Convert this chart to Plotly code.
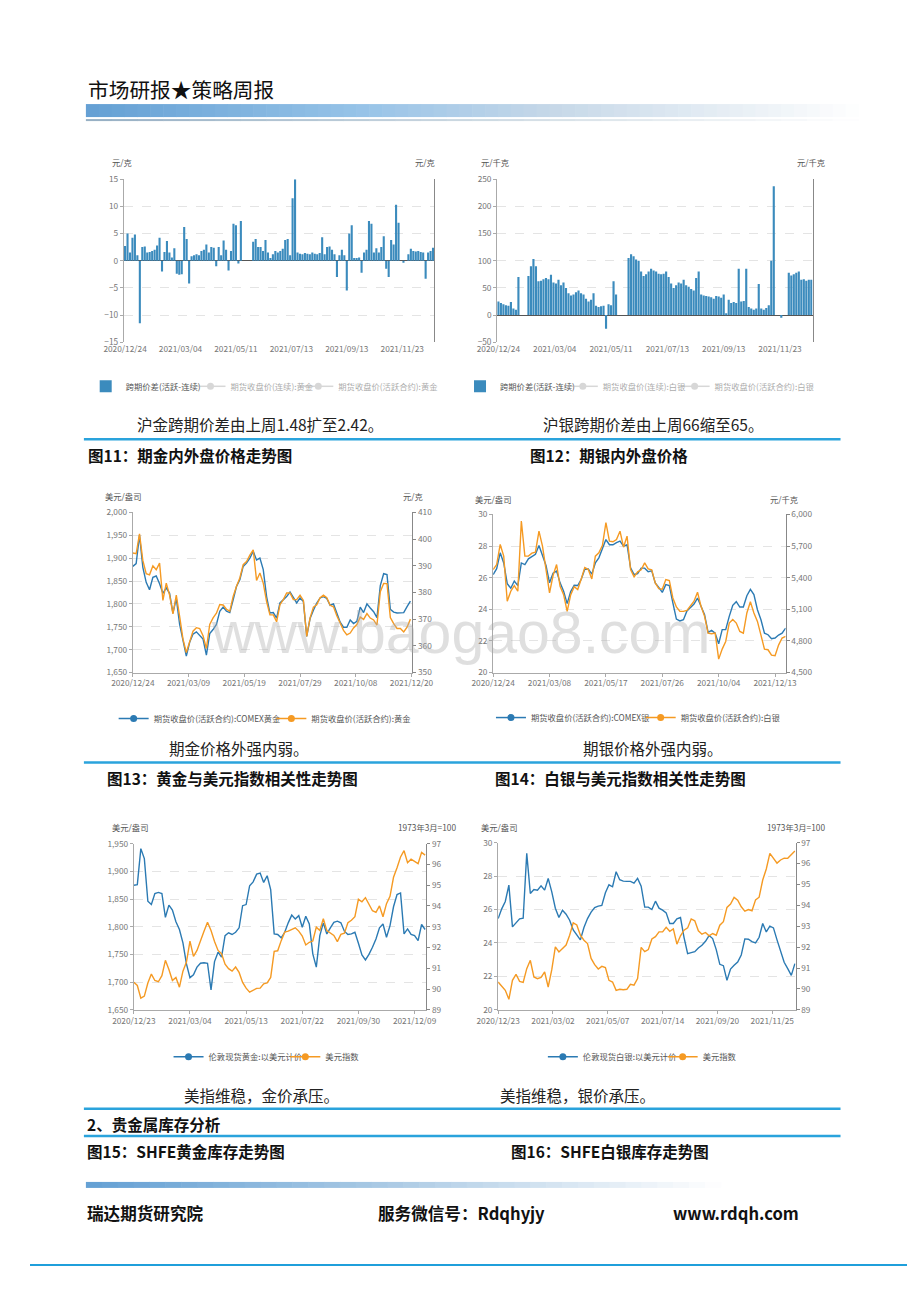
import numpy as np
import plotly.graph_objects as go

W, H = 920, 1302
# the photographed page is slightly shrunk/offset; map reference pixels to figure coordinates
SX, OX, SY, OY = 0.955, 28.0, 0.99, 14.0
def X(px): return ((px - OX) / SX) / W
def Y(py): return 1 - ((py - OY) / SY) / H
FS = 1.035
def fs(s): return round(s * FS, 1)

FONT = "Noto Sans CJK SC"
BLUE = "#2b7ab3"
ORANGE = "#f59a23"
BAR = "#3b8bbd"
GRAYLEG = "#b0b0b0"

# ---------------- data ----------------
spread_dates = ["2020/12/24", "2021/03/04", "2021/05/11", "2021/07/13", "2021/09/13", "2021/11/23"]
spread_ticks = [0, 45, 90, 135, 180, 225]
gold_spread = [2.7, 5.0, 1.5, 4.2, 4.8, 1.0, -11.5, 2.5, 2.6, 1.5,
               1.6, 1.8, 2.0, 2.8, 4.2, -2.0, 1.6, 3.6, 1.5, 0.6,
               2.3, -2.4, -2.6, -2.5, 6.2, 4.0, -4.2, 0.8, 1.0, 1.2,
               1.0, 1.8, 2.0, 3.0, 1.5, 2.5, 2.4, -1.0, 2.5, 1.0,
               3.7, 2.0, -1.8, 1.8, 6.8, 6.5, -0.5, 7.3, 0, 0,
               0, 0, 3.5, 4.0, 2.5, 2.5, 1.8, 3.8, 1.5, 0.5,
               1.2, 1.8, 1.5, 1.8, 2.2, 3.8, 4.0, 1.0, 11.5, 15.0,
               1.5, 1.3, 1.2, 1.4, 1.3, 1.2, 1.5, 1.3, 1.2, 1.4,
               4.3, 1.2, 2.5, 2.6, 2.0, 1.2, -3.0, 1.0, 2.0, 1.0,
               -5.5, 5.0, 6.5, 0.5, 0.5, 0.6, -2.2, 1.5, 2.0, 7.3,
               6.8, 1.5, 2.3, 1.5, 2.5, 4.5, -1.5, -3.0, 3.8, 3.0,
               10.3, 7.0, 0, -0.4, 0, 1.2, 2.2, 1.8, 1.7, 1.8,
               1.6, 1.5, -3.3, 1.5, 1.8, 2.4]
silver_spread = [25, 22, 20, 18, 17, 24, 12, 10, 70, 0,
                 0, 0, 72, 90, 103, 90, 62, 63, 66, 68,
                 66, 74, 60, 58, 65, 55, 60, 50, 40, 36,
                 38, 42, 45, 40, 38, 30, 25, 28, 40, 17,
                 15, 16, 17, -25, 20, 18, 62, 38, 0, 0,
                 0, 0, 105, 112, 108, 102, 100, 80, 72, 75,
                 80, 85, 82, 80, 76, 75, 76, 80, 70, 58,
                 50, 55, 60, 58, 65, 55, 52, 48, 45, 68,
                 80, 38, 36, 35, 34, 33, 30, 35, 34, 32,
                 38, 2, 28, 22, 24, 22, 85, 25, 26, 85,
                 15, 12, 10, 12, 57, 12, 10, 13, 18, 100,
                 237, 0, 0, -5, 0, 0, 78, 73, 75, 78,
                 80, 65, 66, 63, 65, 65]

f11_dates = ["2020/12/24", "2021/03/09", "2021/05/19", "2021/07/29", "2021/10/08", "2021/12/20"]
f11_ticks = [0, 50, 100, 150, 200, 250]
comex_gold = [1882, 1888, 1950, 1880, 1847, 1831, 1858, 1861, 1844, 1823,
              1835, 1823, 1780, 1812, 1755, 1717, 1686, 1716, 1734, 1739,
              1732, 1723, 1688, 1735, 1744, 1755, 1784, 1793, 1784, 1781,
              1809, 1838, 1853, 1882, 1889, 1900, 1915, 1896, 1900, 1875,
              1816, 1780, 1781, 1769, 1802, 1809, 1816, 1826, 1813, 1802,
              1813, 1805, 1729, 1768, 1786, 1802, 1813, 1816, 1812, 1797,
              1800, 1778, 1760, 1749, 1749, 1765, 1757, 1762, 1793, 1781,
              1800, 1791, 1783, 1770, 1840, 1866, 1864, 1788, 1782, 1780,
              1781, 1781, 1794, 1806]
shfe_gold = [394.8, 394.5, 402, 392, 387, 386.6, 390, 388.5, 391, 377,
             383.5, 379, 372, 379, 371, 362.5, 357.5, 362, 365.5, 366.8,
             366.5, 363.8, 359, 368, 370.5, 372.2, 375.5, 375.3, 373.7, 373,
             378.5, 382.3, 385.4, 390.4, 391.6, 394, 396, 384.5, 387.3, 383.5,
             376.6, 371.6, 371.6, 369, 375.4, 377.3, 379.8, 379.8, 377.3, 377.3,
             379, 377, 363.5, 370.5, 374.5, 375.4, 378, 379, 378, 375.2,
             374.6, 371.3, 368.3, 365.8, 364.1, 364.8, 366.7, 368, 370.8, 369.9,
             372.1, 370.4, 369.7, 367.8, 380.3, 383.4, 383.3, 370.6, 368.3, 366.5,
             366.5, 365.2, 367, 370]

f12_dates = ["2020/12/24", "2021/03/08", "2021/05/17", "2021/07/26", "2021/10/04", "2021/12/13"]
f12_ticks = [0, 48, 96, 144, 192, 240]
comex_silver = [26.19, 26.57, 27.57, 26.93, 25.62, 25.33, 25.79, 25.50, 26.93, 26.83,
                27.19, 27.36, 27.48, 28.03, 27.46, 26.77, 25.67, 26.28, 26.41, 25.67,
                25.14, 24.36, 25.12, 25.52, 25.50, 25.90, 26.53, 26.55, 26.22, 26.93,
                27.25, 27.78, 28.41, 28.08, 28.08, 28.22, 28.31, 27.99, 28.08, 26.62,
                26.19, 26.26, 26.60, 26.60, 26.38, 26.43, 25.67, 25.39, 25.07, 25.56,
                25.50, 24.40, 23.38, 23.26, 23.34, 23.89, 24.12, 24.33, 24.71, 24.19,
                23.66, 22.54, 22.66, 22.49, 21.82, 22.71, 22.71, 23.55, 24.25, 24.48,
                24.14, 24.14, 24.86, 25.26, 24.93, 23.97, 23.34, 22.49, 22.39, 22.14,
                22.18, 22.37, 22.49, 22.81]
shfe_silver = [5477, 5524, 5715, 5604, 5176, 5271, 5325, 5271, 5937, 5604,
               5604, 5632, 5642, 5841, 5699, 5493, 5255, 5420, 5524, 5318,
               5239, 5080, 5236, 5315, 5287, 5388, 5496, 5477, 5388, 5604,
               5635, 5705, 5921, 5746, 5740, 5762, 5841, 5689, 5794, 5477,
               5407, 5455, 5474, 5540, 5483, 5474, 5350, 5296, 5290, 5382,
               5372, 5207, 5122, 5080, 5080, 5090, 5137, 5176, 5261, 5128,
               5033, 4874, 4868, 4874, 4627, 4722, 4795, 4969, 5004, 4969,
               4890, 4874, 5065, 5172, 5065, 4985, 4855, 4722, 4716, 4665,
               4659, 4760, 4827, 4843]

f13_dates = ["2020/12/23", "2021/03/04", "2021/05/13", "2021/07/22", "2021/09/30", "2021/12/09"]
f13_ticks = [0, 48, 96, 144, 192, 240]
ldn_gold = [1875, 1876, 1941, 1923, 1846, 1840, 1860, 1862, 1860, 1817,
            1839, 1830, 1809, 1795, 1771, 1733, 1708, 1713, 1727, 1734,
            1735, 1734, 1686, 1737, 1754, 1745, 1784, 1789, 1786, 1790,
            1798, 1838, 1840, 1874, 1881, 1895, 1897, 1880, 1892, 1867,
            1787, 1786, 1780, 1790, 1807, 1821, 1814, 1820, 1799, 1819,
            1805, 1751, 1727, 1784, 1807, 1787, 1798, 1808, 1810, 1807,
            1792, 1786, 1787, 1790, 1770, 1749, 1740, 1750, 1763, 1778,
            1798, 1805, 1781, 1802, 1836, 1858, 1861, 1787, 1796, 1786,
            1784, 1775, 1804, 1795]
usd_index_a = [90.33, 90.17, 89.56, 89.66, 90.29, 90.72, 90.41, 90.35, 90.64, 91.38,
               90.94, 90.41, 90.56, 90.09, 90.86, 91.30, 92.31, 91.57, 91.86, 92.28,
               92.78, 93.22, 92.82, 92.29, 91.86, 91.70, 91.20, 90.98, 90.86, 91.06,
               90.80, 90.32, 90.04, 89.85, 89.93, 90.03, 90.04, 90.25, 90.29, 90.56,
               91.81, 91.84, 92.33, 92.74, 92.79, 92.89, 92.95, 92.79, 92.55, 92.12,
               92.25, 92.31, 92.98, 92.82, 93.39, 92.81, 92.71, 92.58, 92.28, 92.63,
               92.69, 93.19, 93.31, 93.48, 94.32, 94.20, 94.40, 94.09, 93.77, 93.69,
               94.00, 93.48, 94.11, 94.46, 95.38, 95.84, 96.36, 96.66, 96.08, 96.25,
               96.13, 96.04, 96.58, 96.45]

f14_dates = ["2020/12/23", "2021/03/02", "2021/05/07", "2021/07/14", "2021/09/20", "2021/11/25"]
f14_ticks = [0, 46, 92, 138, 184, 230]
ldn_silver = [25.46, 26.04, 26.48, 27.46, 24.96, 25.22, 25.44, 25.48, 29.36, 26.96,
              27.20, 27.16, 27.42, 27.16, 27.86, 27.06, 26.08, 25.52, 25.96, 25.72,
              25.36, 24.78, 24.44, 24.18, 24.92, 25.46, 25.84, 26.12, 26.20, 26.24,
              27.00, 27.48, 27.36, 28.26, 27.78, 27.70, 27.68, 27.68, 27.58, 27.86,
              27.40, 26.14, 26.14, 26.00, 26.50, 26.08, 25.96, 25.80, 25.16, 25.16,
              25.44, 25.52, 24.32, 23.36, 23.42, 23.48, 23.70, 23.86, 24.10, 24.44,
              24.26, 23.60, 22.72, 22.64, 21.76, 22.44, 22.66, 22.86, 23.28, 24.24,
              24.22, 24.08, 24.00, 24.34, 25.16, 24.66, 25.00, 24.90, 24.18, 23.44,
              22.84, 22.46, 22.06, 22.76]
usd_index_b = [90.33, 90.12, 89.93, 89.50, 90.41, 90.70, 90.36, 90.31, 90.97, 91.37,
               90.57, 90.49, 90.55, 90.81, 90.09, 90.92, 92.01, 91.77, 91.93, 92.10,
               92.57, 93.16, 93.06, 92.57, 92.33, 92.17, 91.46, 91.16, 90.95, 91.08,
               91.02, 90.41, 90.33, 89.93, 89.98, 89.96, 89.98, 90.22, 90.18, 90.49,
               91.99, 91.78, 91.88, 92.39, 92.50, 92.73, 92.73, 92.95, 92.76, 92.87,
               92.14, 92.54, 92.81, 92.92, 93.35, 93.26, 92.78, 92.62, 92.70, 92.54,
               92.65, 92.57, 93.05, 93.22, 93.90, 94.06, 94.38, 94.25, 93.93, 93.72,
               93.80, 93.74, 94.26, 94.39, 95.21, 95.74, 96.49, 96.28, 96.02, 96.17,
               96.26, 96.25, 96.41, 96.60]

# ---------------- figure ----------------
fig = go.Figure()
tf = dict(size=fs(8), color="#777777", family=FONT)

def bar_days(v): return np.arange(len(v)) * 2
def line_days(v): return np.arange(len(v)) * 3

def add_line(x, y, xa, ya, color, name, leg):
    fig.add_trace(go.Scatter(x=x, y=y, xaxis=xa, yaxis=ya, mode="lines",
                             line=dict(color=color, width=1.4), showlegend=False))
    fig.add_trace(go.Scatter(x=[None], y=[None], xaxis=xa, yaxis=ya, mode="lines+markers",
                             line=dict(color=color, width=1.5), marker=dict(size=7, color=color),
                             name=name, legend=leg))

def add_ghost(name, xa, ya, leg):
    fig.add_trace(go.Scatter(x=[None], y=[None], xaxis=xa, yaxis=ya, mode="lines+markers",
                             line=dict(color=GRAYLEG, width=1.5), marker=dict(size=7, color=GRAYLEG),
                             name=name, legend=leg, visible="legendonly"))

fig.add_trace(go.Bar(x=bar_days(gold_spread), y=gold_spread, xaxis="x", yaxis="y",
                     marker=dict(color=BAR, line=dict(width=0)), width=1.7,
                     name="跨期价差(活跃-连续)", legend="legend"))
add_ghost("期货收盘价(连续):黄金", "x", "y2", "legend2")
add_ghost("期货收盘价(活跃合约):黄金", "x", "y2", "legend3")

fig.add_trace(go.Bar(x=bar_days(silver_spread), y=silver_spread, xaxis="x2", yaxis="y3",
                     marker=dict(color=BAR, line=dict(width=0)), width=1.7,
                     name="跨期价差(活跃-连续)", legend="legend4"))
add_ghost("期货收盘价(连续):白银", "x2", "y4", "legend5")
add_ghost("期货收盘价(活跃合约):白银", "x2", "y4", "legend6")

add_line(line_days(comex_gold), comex_gold, "x3", "y5", BLUE, "期货收盘价(活跃合约):COMEX黄金", "legend7")
add_line(line_days(shfe_gold), shfe_gold, "x3", "y6", ORANGE, "期货收盘价(活跃合约):黄金", "legend8")
add_line(line_days(comex_silver), comex_silver, "x4", "y7", BLUE, "期货收盘价(活跃合约):COMEX银", "legend9")
add_line(line_days(shfe_silver), shfe_silver, "x4", "y8", ORANGE, "期货收盘价(活跃合约):白银", "legend10")
add_line(line_days(ldn_gold), ldn_gold, "x5", "y9", BLUE, "伦敦现货黄金:以美元计价", "legend11")
add_line(line_days(usd_index_a), usd_index_a, "x5", "y10", ORANGE, "美元指数", "legend12")
add_line(line_days(ldn_silver), ldn_silver, "x6", "y11", BLUE, "伦敦现货白银:以美元计价", "legend13")
add_line(line_days(usd_index_b), usd_index_b, "x6", "y12", ORANGE, "美元指数", "legend14")

def date_axis(dom, anchor, rng, tv, tt, line=True):
    return dict(domain=dom, anchor=anchor, range=rng, tickmode="array", tickvals=tv, ticktext=tt,
                showgrid=False, zeroline=False, showline=line, linecolor="#aaaaaa",
                ticks="outside" if line else "", ticklen=3, tickcolor="#aaaaaa", tickfont=tf)

def val_axis(dom, anchor, rng, dtick, fmt="", zero=False):
    return dict(domain=dom, anchor=anchor, range=rng, dtick=dtick, tick0=rng[0], tickformat=fmt,
                showgrid=True, gridcolor="#e4e4e4", griddash="dash", gridwidth=1,
                zeroline=zero, zerolinecolor="#555555", zerolinewidth=1,
                showline=True, linecolor="#aaaaaa", ticks="outside", ticklen=3,
                tickcolor="#aaaaaa", tickfont=tf)

def right_axis(over, anchor, rng, dtick, fmt="", labels=True):
    return dict(overlaying=over, anchor=anchor, side="right", range=rng, dtick=dtick, tick0=rng[0],
                tickformat=fmt, showgrid=False, zeroline=False, showline=True, linecolor="#888888",
                ticks="outside" if labels else "", ticklen=3, tickcolor="#888888",
                showticklabels=labels, tickfont=tf)

top_dom = [Y(341), Y(178)]
layout_axes = dict(
    xaxis=date_axis([X(122), X(433)], "y", [-1, 251], spread_ticks, spread_dates, line=False),
    yaxis=val_axis(top_dom, "x", [-15, 15], 5, zero=True),
    yaxis2=right_axis("y", "x", [-15, 15], 5, labels=False),
    xaxis2=date_axis([X(496), X(812)], "y3", [-1, 251], spread_ticks, spread_dates, line=False),
    yaxis3=val_axis(top_dom, "x2", [-50, 250], 50, zero=True),
    yaxis4=right_axis("y3", "x2", [-50, 250], 50, labels=False),
    xaxis3=date_axis([X(131), X(411)], "y5", [0, 250.7], f11_ticks, f11_dates),
    yaxis5=val_axis([Y(671), Y(511)], "x3", [1650, 2000], 50, ","),
    yaxis6=right_axis("y5", "x3", [350, 410], 10),
    xaxis4=date_axis([X(492), X(785)], "y7", [0, 249], f12_ticks, f12_dates),
    yaxis7=val_axis([Y(671), Y(513)], "x4", [20, 30], 2),
    yaxis8=right_axis("y7", "x4", [4500, 6000], 300, ","),
    xaxis5=date_axis([X(132), X(425)], "y9", [0, 250], f13_ticks, f13_dates),
    yaxis9=val_axis([Y(1008), Y(842)], "x5", [1650, 1950], 50, ","),
    yaxis10=right_axis("y9", "x5", [89, 97], 1),
    xaxis6=date_axis([X(497), X(795)], "y11", [0, 249.6], f14_ticks, f14_dates),
    yaxis11=val_axis([Y(1008), Y(841)], "x6", [20, 30], 2),
    yaxis12=right_axis("y11", "x6", [89, 97], 1),
)

def leg(text_start, y):
    xf = ((text_start - OX) / SX - 40) / W
    return dict(x=xf, y=Y(y), xanchor="left", yanchor="middle", orientation="h",
                font=dict(size=fs(8), color="#555555", family=FONT), bgcolor="rgba(0,0,0,0)",
                itemwidth=30, tracegroupgap=0, itemclick=False, itemdoubleclick=False)

legends = {
    "legend": leg(122, 385), "legend2": leg(227, 385), "legend3": leg(335, 385),
    "legend4": leg(497, 385), "legend5": leg(600, 385), "legend6": leg(712, 385),
    "legend7": leg(150, 717), "legend8": leg(308, 717),
    "legend9": leg(528, 716), "legend10": leg(678, 716),
    "legend11": leg(205, 1055), "legend12": leg(322, 1055),
    "legend13": leg(580, 1055), "legend14": leg(700, 1055),
}

# ---------------- page decoration ----------------
shapes = []
def grad(x0, x1, y0, y1, stops, n=60):
    for i in range(n):
        t = (i + 0.5) / n
        for j in range(len(stops) - 1):
            if stops[j][0] <= t <= stops[j + 1][0]:
                a, b = stops[j], stops[j + 1]
                u = (t - a[0]) / (b[0] - a[0])
                c = [int(a[1][k] + (b[1][k] - a[1][k]) * u) for k in range(3)]
                break
        xa = x0 + (x1 - x0) * i / n
        xb = x0 + (x1 - x0) * (i + 1) / n + 0.6
        shapes.append(dict(type="rect", xref="paper", yref="paper", x0=X(xa), x1=X(xb),
                           y0=Y(y1), y1=Y(y0), line=dict(width=0),
                           fillcolor="rgb(%d,%d,%d)" % tuple(c), layer="below"))

grad(84, 858, 103, 116, [(0, (100, 160, 212)), (0.35, (150, 195, 232)), (0.6, (198, 216, 232)), (1, (255, 255, 255))])
grad(84, 858, 118, 120, [(0, (150, 175, 195)), (0.6, (215, 225, 232)), (1, (255, 255, 255))], n=30)
grad(84, 720, 1180, 1186, [(0, (100, 160, 212)), (0.5, (175, 205, 230)), (1, (255, 255, 255))], n=40)

for yy in [438, 761, 1107, 1134]:
    shapes.append(dict(type="line", xref="paper", yref="paper", x0=X(82), x1=X(840),
                       y0=Y(yy), y1=Y(yy), line=dict(color="#2aa3dc", width=2.5)))
shapes.append(dict(type="line", xref="paper", yref="paper", x0=0, x1=1,
                   y0=Y(1263), y1=Y(1263), line=dict(color="#1f9fdb", width=2)))

ann = []
def txt(s, x, y, size=15, bold=False, color="#222222", xanchor="left", family=FONT):
    ann.append(dict(text=("<b>%s</b>" % s) if bold else s, x=X(x), y=Y(y), xref="paper", yref="paper",
                    xanchor=xanchor, yanchor="middle", showarrow=False,
                    font=dict(size=fs(size), color=color, family=family)))

txt("市场研报★策略周报", 84, 88, size=20, color="#111111")
txt("沪金跨期价差由上周1.48扩至2.42。", 133, 423)
txt("沪银跨期价差由上周66缩至65。", 540, 423)
txt("图11：期金内外盘价格走势图", 84, 454, bold=True, color="#111111")
txt("图12：期银内外盘价格", 527, 454, bold=True, color="#111111")
txt("期金价格外强内弱。", 165, 746)
txt("期银价格外强内弱。", 580, 746)
txt("图13：黄金与美元指数相关性走势图", 103, 776, bold=True, color="#111111")
txt("图14：白银与美元指数相关性走势图", 492, 776, bold=True, color="#111111")
txt("美指维稳，金价承压。", 180, 1093)
txt("美指维稳，银价承压。", 497, 1093)
txt("2、贵金属库存分析", 83, 1122, bold=True, color="#111111")
txt("图15：SHFE黄金库存走势图", 83, 1149, bold=True, color="#111111")
txt("图16：SHFE白银库存走势图", 508, 1149, bold=True, color="#111111")
txt("瑞达期货研究院", 83, 1211, size=16, bold=True, color="#111111")
txt("服务微信号：Rdqhyjy", 375, 1211, size=16, bold=True, color="#111111")
txt("www.rdqh.com", 670, 1211, size=16, bold=True, color="#111111")

for s, x, y, xa in [("元/克", 108, 161, "left"), ("元/克", 436, 161, "right"),
                    ("元/千克", 478, 161, "left"), ("元/千克", 826, 161, "right"),
                    ("美元/盎司", 101, 495, "left"), ("元/克", 424, 495, "right"),
                    ("美元/盎司", 472, 498, "left"), ("元/千克", 799, 498, "right"),
                    ("美元/盎司", 108, 825, "left"), ("1973年3月=100", 457, 825, "right"),
                    ("美元/盎司", 478, 825, "left"), ("1973年3月=100", 826, 825, "right")]:
    txt(s, x, y, size=8, color="#555555", xanchor=xa)

txt("www.baogao8.com", 460, 632, size=57, color="rgba(170,170,170,0.38)", xanchor="center",
    family="Liberation Sans")

fig.update_layout(
    width=W, height=H, autosize=False, margin=dict(l=0, r=0, t=0, b=0),
    paper_bgcolor="white", plot_bgcolor="white", hovermode=False,
    font=dict(family=FONT, size=8, color="#555555"),
    showlegend=True, barmode="overlay",
    shapes=shapes, annotations=ann, **legends, **layout_axes)

fig.write_html("out.html")
